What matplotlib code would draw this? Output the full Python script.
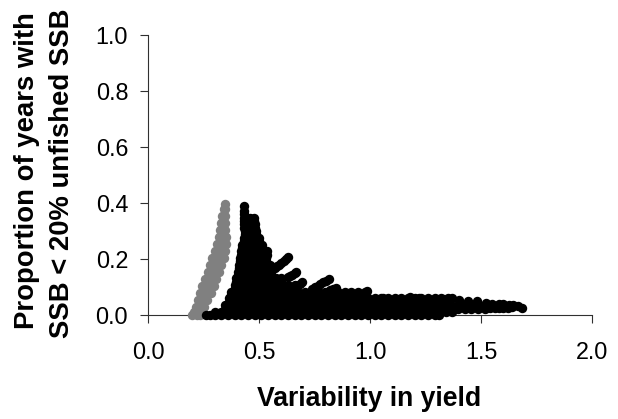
import matplotlib
matplotlib.use('Agg')
import matplotlib.pyplot as plt

plt.rcParams['font.family'] = ['Liberation Sans', 'DejaVu Sans']

# values, one list of x per y level
gray_levels = [
    (0.0, [0.20, 0.22, 0.235]),
    (0.012, [0.205, 0.225, 0.24]),
    (0.03, [0.215, 0.235, 0.25]),
    (0.055, [0.225, 0.245, 0.265]),
    (0.08, [0.235, 0.26, 0.285]),
    (0.105, [0.245, 0.27, 0.295]),
    (0.13, [0.255, 0.28, 0.305]),
    (0.155, [0.27, 0.295, 0.32]),
    (0.18, [0.28, 0.305, 0.33]),
    (0.205, [0.29, 0.315, 0.34]),
    (0.23, [0.30, 0.325, 0.345]),
    (0.255, [0.31, 0.33, 0.35]),
    (0.28, [0.32, 0.34, 0.35]),
    (0.305, [0.325, 0.345]),
    (0.33, [0.33, 0.345]),
    (0.355, [0.335, 0.345]),
    (0.38, [0.34, 0.345]),
    (0.395, [0.345]),
]

# each x list is used on the y levels in front of it
black_levels = [
    ((0.0, 0.012), [0.30, 0.33, 0.36, 0.39, 0.42, 0.45, 0.48, 0.51, 0.54, 0.57, 0.60, 0.63, 0.66,
                    0.69, 0.72, 0.75, 0.78, 0.81, 0.84, 0.87, 0.90, 0.93, 0.96, 0.99, 1.02, 1.05,
                    1.08, 1.11, 1.14, 1.17, 1.20, 1.23, 1.26, 1.29, 1.31]),
    ((0.0,), [0.26, 0.28]),
    ((0.012,), [1.34, 1.37]),
    ((0.024, 0.036), [0.345, 0.375, 0.405, 0.435, 0.465, 0.495, 0.525, 0.555, 0.585, 0.615, 0.645,
                      0.675, 0.705, 0.735, 0.765, 0.795, 0.825, 0.855, 0.885, 0.915, 0.945, 0.975,
                      1.005, 1.035, 1.065, 1.095, 1.125, 1.155, 1.185, 1.215, 1.245, 1.275, 1.305,
                      1.335, 1.365, 1.395, 1.425, 1.455, 1.485, 1.515]),
    ((0.048, 0.06), [0.365, 0.39, 0.42, 0.45, 0.48, 0.51, 0.54, 0.57, 0.60, 0.63, 0.66, 0.69, 0.72,
                     0.75, 0.78, 0.81, 0.84, 0.87, 0.90, 0.93, 0.96, 0.99, 1.02, 1.05, 1.08, 1.11,
                     1.14, 1.17, 1.20, 1.23, 1.26, 1.29, 1.32, 1.35]),
    ((0.072, 0.084), [0.375, 0.405, 0.435, 0.465, 0.495, 0.525, 0.555, 0.585, 0.615, 0.645, 0.675,
                      0.705, 0.735, 0.765, 0.795, 0.825, 0.855, 0.885, 0.915, 0.945, 0.975]),
    ((0.096, 0.108), [0.39, 0.42, 0.45, 0.48, 0.51, 0.54, 0.57, 0.60, 0.63, 0.66]),
    ((0.12, 0.132), [0.395, 0.425, 0.455, 0.485, 0.515, 0.545, 0.575, 0.60]),
    ((0.144, 0.156), [0.405, 0.435, 0.465, 0.495, 0.525, 0.555]),
    ((0.168, 0.18), [0.41, 0.44, 0.47, 0.50, 0.53, 0.55]),
    ((0.192, 0.204), [0.415, 0.445, 0.475, 0.505, 0.53]),
    ((0.216, 0.228), [0.42, 0.45, 0.48, 0.51, 0.537]),
    ((0.24, 0.252), [0.425, 0.455, 0.485, 0.515]),
    ((0.264, 0.276), [0.43, 0.46, 0.49, 0.50]),
    ((0.288, 0.30), [0.435, 0.465, 0.485]),
    ((0.312, 0.324), [0.43, 0.46, 0.48]),
    ((0.336, 0.348), [0.43, 0.46, 0.477]),
    ((0.36, 0.372), [0.43]),
    ((0.39,), [0.432]),
]

# the arms and the long right tail
arm_x = [0.63, 0.62, 0.61, 0.60, 0.59, 0.58, 0.57, 0.668, 0.66, 0.65, 0.64, 0.63, 0.695, 0.685,
         0.67, 0.815, 0.80, 0.79, 0.775, 0.765, 0.75, 0.74, 0.847, 0.835, 0.82, 0.985, 1.06, 1.18,
         1.22, 1.37, 1.33, 1.40, 1.44, 1.48, 1.52, 1.55, 1.58, 1.60, 1.625, 1.645, 1.665, 1.683,
         1.52, 1.54, 1.56, 1.58, 1.60, 1.62, 1.64]
arm_y = [0.208, 0.20, 0.195, 0.188, 0.18, 0.175, 0.17, 0.155, 0.15, 0.145, 0.14, 0.135, 0.118,
         0.112, 0.105, 0.13, 0.124, 0.12, 0.112, 0.105, 0.10, 0.095, 0.098, 0.094, 0.09, 0.088,
         0.062, 0.066, 0.062, 0.06, 0.058, 0.055, 0.052, 0.05, 0.045, 0.042, 0.04, 0.04, 0.038,
         0.036, 0.032, 0.026, 0.028, 0.026, 0.026, 0.026, 0.026, 0.026, 0.028]

x_ticks = [0.0, 0.5, 1.0, 1.5, 2.0]
y_ticks = [0.0, 0.2, 0.4, 0.6, 0.8, 1.0]

gray_x = [x for y, xs in gray_levels for x in xs]
gray_y = [y for y, xs in gray_levels for x in xs]
black_x = [x for ys, xs in black_levels for y in ys for x in xs] + arm_x
black_y = [y for ys, xs in black_levels for y in ys for x in xs] + arm_y

fig = plt.figure(figsize=(6.18, 4.19), dpi=100)
ax = fig.add_axes([148 / 618, 1 - 315.3 / 419, (592.3 - 148) / 618, (315.3 - 34.7) / 419])

ax.scatter(gray_x, gray_y, s=46, color='#808080', linewidths=0, clip_on=False, zorder=3)
ax.scatter(black_x, black_y, s=46, color='black', linewidths=0, clip_on=False, zorder=3)

ax.set_xlim(0, 2)
ax.set_ylim(0, 1)
ax.set_xticks(x_ticks)
ax.set_yticks(y_ticks)
ax.set_xticklabels([f'{v:.1f}' for v in x_ticks])
ax.set_yticklabels([f'{v:.1f}' for v in y_ticks])
ax.tick_params(axis='both', labelsize=16.8, length=5.8, width=0.8, color='#303030')
ax.tick_params(axis='y', pad=8.5)
ax.tick_params(axis='x', pad=13)

ax.spines['top'].set_visible(False)
ax.spines['right'].set_visible(False)
ax.spines['left'].set_color('#303030')
ax.spines['bottom'].set_color('#303030')

fig.text(369 / 618, 1 - 399 / 419, 'Variability in yield', fontsize=19.2, fontweight='bold',
         ha='center', va='center')
fig.text(27 / 618, 1 - 171 / 419, 'Proportion of years with', fontsize=19.8,
         fontweight='bold', ha='center', va='center', rotation=90)
fig.text(62 / 618, 1 - 173.7 / 419, 'SSB < 20% unfished SSB', fontsize=19.8,
         fontweight='bold', ha='center', va='center', rotation=90)

fig.savefig('out.png', dpi=100)
